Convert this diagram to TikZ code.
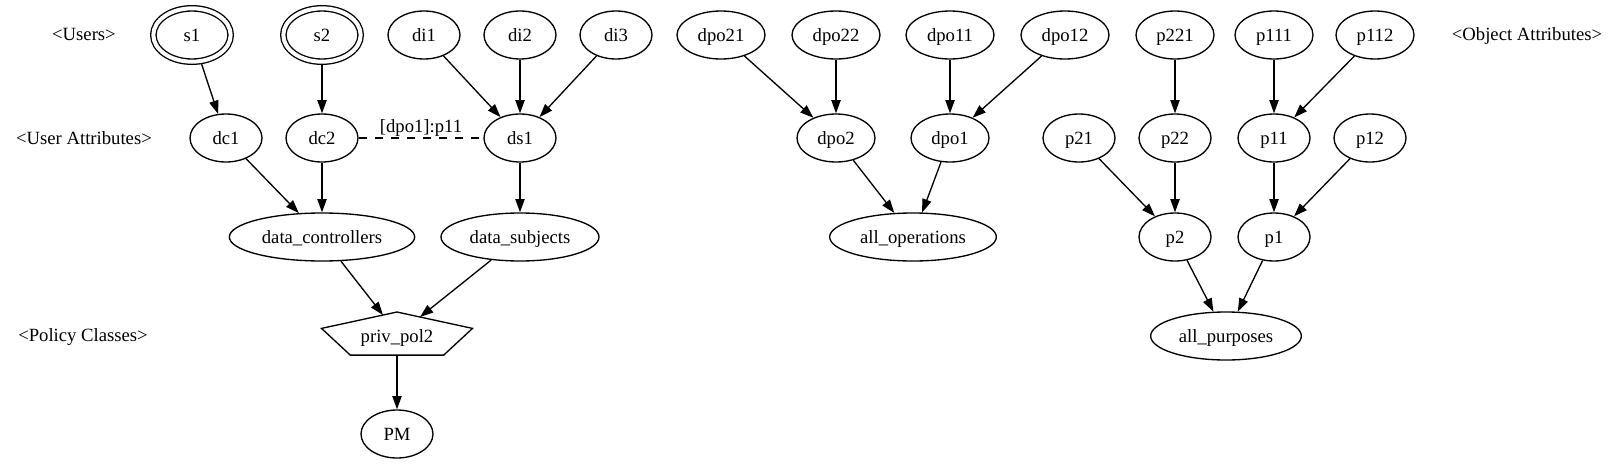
\documentclass[tikz,border=0pt]{standalone}
\usepackage{fontspec}
\setmainfont{Liberation Serif}
\newfontfamily\tmsfont{Liberation Serif}
\usetikzlibrary{arrows.meta,shapes.geometric}
\begin{document}
\begin{tikzpicture}[x=0.75pt,y=-0.75pt,
  every node/.style={font=\tmsfont\fontsize{14}{16}\selectfont, inner sep=0pt, text height=10pt, text depth=0.6pt},
  el/.style={draw, ellipse, line width=1pt, minimum width=54pt, minimum height=36pt},
  dbl/.style={el, minimum width=58pt, minimum height=40pt, double, double distance=3pt, outer sep=2.5pt},
  wa/.style={minimum width=66pt},
  wb/.style={minimum width=58.5pt},
  arr/.style={line width=1pt, -{Triangle[length=10pt,width=7pt]}},
  dsh/.style={line width=1pt, dash pattern=on 6pt off 6pt},
  poly/.style={line width=1pt, line join=miter},
]
\useasboundingbox (0,0) rectangle (1616,464);

% rank labels
\node (lu)  at (84,34)   {<Users>};
\node (lua) at (84,138)  {<User Attributes>};
\node (lpc) at (83,335)  {<Policy Classes>};
\node (loa) at (1527,34) {<Object Attributes>};

% row 1
\node[dbl] (s1) at (192,35) {s1};
\node[dbl] (s2) at (322,35) {s2};
\node[el] (di1) at (424,35) {di1};
\node[el] (di2) at (520,35) {di2};
\node[el] (di3) at (616,35) {di3};
\node[el,wa] (dpo21) at (721,35) {dpo21};
\node[el,wa] (dpo22) at (836,35) {dpo22};
\node[el,wa] (dpo11) at (950,35) {dpo11};
\node[el,wa] (dpo12) at (1065,35) {dpo12};
\node[el,wb] (p221) at (1175,35) {p221};
\node[el,wb] (p111) at (1274,35) {p111};
\node[el,wb] (p112) at (1375,35) {p112};

% row 2
\node[el] (dc1) at (226,138) {dc1};
\node[el] (dc2) at (322,138) {dc2};
\node[el] (ds1) at (520,138) {ds1};
\node[el,wb] (dpo2) at (836,138) {dpo2};
\node[el,wb] (dpo1) at (950,138) {dpo1};
\node[el] (p21) at (1079,138) {p21};
\node[el] (p22) at (1175,138) {p22};
\node[el] (p11) at (1274,138) {p11};
\node[el] (p12) at (1370,138) {p12};

% row 3
\node[el,minimum width=139pt] (dcs) at (322,237) {data\_controllers};
\node[el,minimum width=118.5pt] (dss) at (520,237) {data\_subjects};
\node[el,minimum width=125pt] (allops) at (913,237) {all\_operations};
\node[el] (p2) at (1175,237) {p2};
\node[el] (p1) at (1274,237) {p1};

% row 4
\node (pp) at (397,336) {priv\_pol2};
\coordinate (ppT) at (397,312);
\coordinate (ppR) at (472.5,328.4);
\coordinate (ppBR) at (443.7,355.1);
\coordinate (ppBL) at (350.3,355.1);
\coordinate (ppL) at (321.5,328.4);
\coordinate (ppB) at (397,355.1);
\coordinate (pcL) at (383,315);
\coordinate (pcR) at (420,317);
\draw[poly] (ppT) -- (ppR) -- (ppBR) -- (ppBL) -- (ppL) -- cycle;
\node[el,minimum width=113pt] (allp) at (1226,336) {all\_purposes};

% row 5
\node[el] (PM) at (397,434) {PM};

% edges
\draw[arr] (s1) -- (dc1);
\draw[arr] (s2) -- (dc2);
\draw[arr] (di1) -- (ds1);
\draw[arr] (di2) -- (ds1);
\draw[arr] (di3) -- (ds1);
\draw[arr] (dc1) -- (dcs);
\draw[arr] (dc2) -- (dcs);
\draw[arr] (ds1) -- (dss);
\draw[arr] (dcs) -- (pcL);
\draw[arr] (dss) -- (pcR);
\draw[arr] (ppB) -- (PM);
\draw[dsh] (dc2) -- node[yshift=9pt] (lab) {[dpo1]:p11} (ds1);

\draw[arr] (dpo21) -- (dpo2);
\draw[arr] (dpo22) -- (dpo2);
\draw[arr] (dpo11) -- (dpo1);
\draw[arr] (dpo12) -- (dpo1);
\draw[arr] (dpo2) -- (allops);
\draw[arr] (dpo1) -- (allops);

\draw[arr] (p221) -- (p22);
\draw[arr] (p111) -- (p11);
\draw[arr] (p112) -- (p11);
\draw[arr] (p21) -- (p2);
\draw[arr] (p22) -- (p2);
\draw[arr] (p11) -- (p1);
\draw[arr] (p12) -- (p1);
\draw[arr] (p2) -- (allp);
\draw[arr] (p1) -- (allp);
\end{tikzpicture}
\end{document}
